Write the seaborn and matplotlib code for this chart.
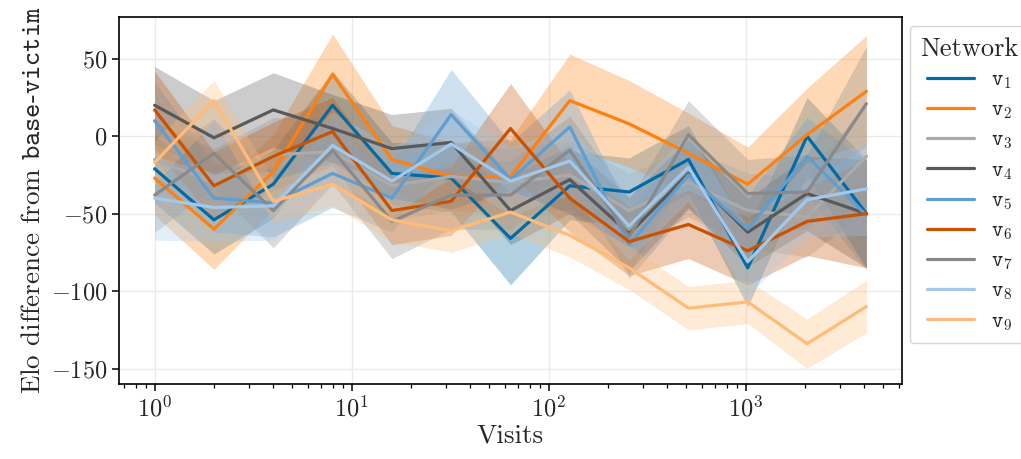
import numpy as np
import pandas as pd
import matplotlib
matplotlib.use("Agg")
import matplotlib.pyplot as plt
import seaborn as sns

visits = [1, 2, 4, 8, 16, 32, 64, 128, 256, 512, 1024, 2048, 4096]
networks = ["v1", "v2", "v3", "v4", "v5", "v6", "v7", "v8", "v9"]
labels = [r"$\mathtt{v}_{%d}$" % i for i in range(1, 10)]

v1_mean = [-21, -54, -31, 20, -24, -27, -66, -32, -36, -15, -85, 0, -50]
v2_mean = [-27, -60, -23, 40, -15, -26, -26, 23, 8, -11, -31, 1, 29]
v3_mean = [-15, -30, -12, -10, -32, -26, -30, -25, -48, -30, -48, -52, -13]
v4_mean = [20, -1, 17, 5, -8, -4, -48, -28, -63, -24, -62, -37, -50]
v5_mean = [10, -40, -43, -24, -40, 14, -28, 6, -70, -25, -60, -13, -51]
v6_mean = [17, -32, -13, 3, -48, -42, 5, -40, -68, -57, -74, -55, -50]
v7_mean = [-38, -11, -48, -9, -55, -38, -38, -9, -65, 1, -37, -36, 21]
v8_mean = [-40, -46, -45, -6, -29, -5, -29, -16, -58, -20, -81, -41, -34]
v9_mean = [-17, 23, -42, -31, -54, -61, -49, -64, -85, -111, -107, -134, -110]

v1_hw = [22, 22, 22, 22, 20, 22, 30, 22, 22, 22, 25, 25, 35]
v2_hw = [24, 26, 24, 26, 22, 22, 24, 30, 28, 26, 24, 30, 36]
v3_hw = [24, 22, 24, 22, 22, 22, 22, 22, 24, 22, 24, 26, 35]
v4_hw = [25, 24, 24, 22, 22, 22, 22, 22, 24, 22, 22, 24, 35]
v5_hw = [25, 22, 22, 22, 22, 29, 24, 24, 22, 22, 22, 25, 35]
v6_hw = [25, 22, 22, 22, 22, 22, 29, 22, 22, 22, 22, 22, 35]
v7_hw = [24, 22, 24, 22, 24, 22, 22, 22, 24, 22, 22, 24, 37]
v8_hw = [27, 22, 22, 22, 22, 22, 22, 22, 22, 22, 22, 24, 30]
v9_hw = [14, 13, 14, 14, 14, 14, 14, 14, 14, 14, 14, 16, 17]

means = [v1_mean, v2_mean, v3_mean, v4_mean, v5_mean, v6_mean, v7_mean, v8_mean, v9_mean]
hws = [v1_hw, v2_hw, v3_hw, v4_hw, v5_hw, v6_hw, v7_hw, v8_hw, v9_hw]

colors = ["#006BA4", "#FF800E", "#ABABAB", "#595959", "#5F9ED1",
          "#C85200", "#898989", "#A2C8EC", "#FFBC79"]

sns.set_style("white")
plt.rcParams.update({
    "font.family": "serif",
    "font.serif": ["cmr10", "DejaVu Serif"],
    "mathtext.fontset": "cm",
    "axes.formatter.use_mathtext": True,
    "axes.unicode_minus": True,
})

rows = []
for n, m, h in zip(networks, means, hws):
    for x, y, e in zip(visits, m, h):
        rows.append({"Visits": x, "Elo": y, "Network": n, "lo": y - e, "hi": y + e})
df = pd.DataFrame(rows)

fig, ax = plt.subplots(figsize=(10.21, 4.59), dpi=100)
fig.subplots_adjust(left=0.1166, right=0.8834, top=0.963, bottom=0.1634)

sns.lineplot(data=df, x="Visits", y="Elo", hue="Network", palette=colors,
             errorbar=None, linewidth=2.3, legend=False, ax=ax)
for n, c in zip(networks, colors):
    d = df[df["Network"] == n]
    ax.fill_between(d["Visits"], d["lo"], d["hi"], color=c, alpha=0.3, linewidth=0)

ax.set_xscale("log")
ax.set_ylim(-160, 77)
ax.set_xlabel("Visits", fontsize=19.5, labelpad=2)
ax.set_ylabel(r"Elo difference from $\mathtt{base}$-$\mathtt{victim}$", fontsize=19.5, labelpad=4)
ax.tick_params(axis="both", which="major", labelsize=17.5, direction="out",
               length=5, width=1.1, bottom=True, left=True, color="black")
ax.tick_params(axis="x", which="minor", direction="out", length=3, width=0.9,
               bottom=True, color="black")
ax.grid(True, which="major", color="#ebebeb", linewidth=1.0)
ax.set_axisbelow(True)
for s in ax.spines.values():
    s.set_color("black")
    s.set_linewidth(1.2)

handles = ax.get_lines()[:9]
leg = ax.legend(handles, labels, title="Network", loc="upper left",
                bbox_to_anchor=(1.01, 0.975), fontsize=15.5, title_fontsize=19,
                frameon=True, handlelength=2.2, borderaxespad=0.0, labelspacing=0.42,
                borderpad=0.5)
leg.get_frame().set_edgecolor("#cccccc")

fig.savefig("out.png", dpi=100)
